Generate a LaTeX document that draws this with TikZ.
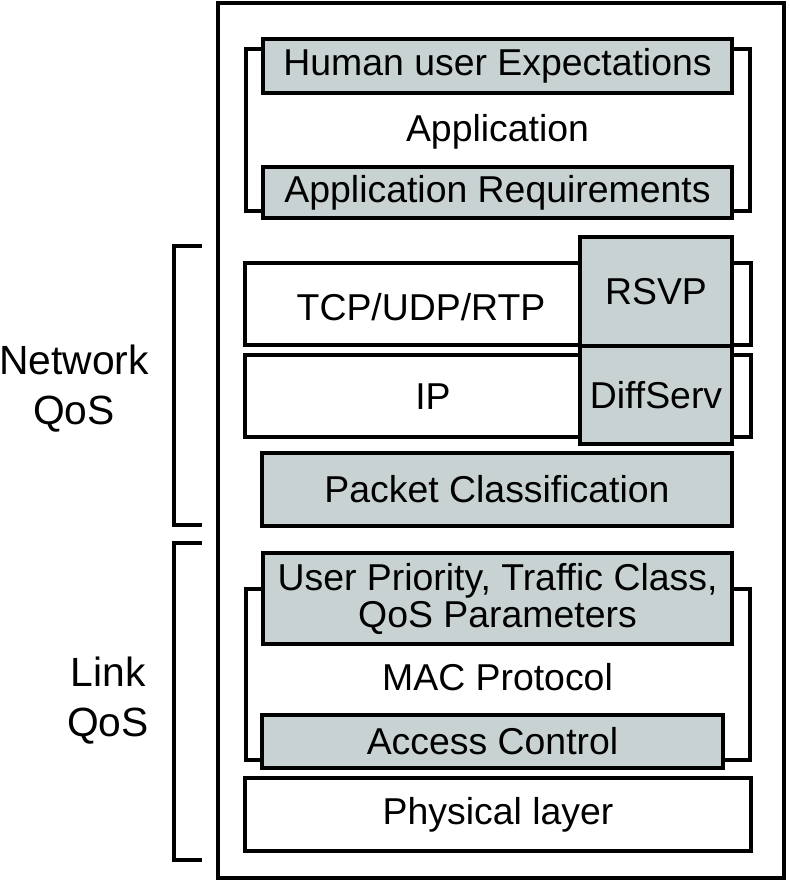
\documentclass[tikz,border=0pt]{standalone}
\usepackage{fontspec}
\setmainfont{Liberation Sans}
\definecolor{boxgray}{RGB}{200,210,210}

\begin{document}
\begin{tikzpicture}[x=0.5pt,y=-0.5pt,line width=1.7pt,
  font=\fontsize{18.7}{18.5}\selectfont,
  layer/.style={draw,fill=white,inner sep=0pt},
  qos/.style={draw,fill=boxgray,inner sep=0pt,align=center},
  side/.style={align=center,font=\fontsize{20.4}{25}\selectfont}]
  \useasboundingbox (0,0) rectangle (789,881);
  % outer frame
  \draw (218,3) rectangle (784,878);
  % brackets
  \draw (202,246) -- (174,246) -- (174,525) -- (202,525);
  \draw (202,543) -- (174,543) -- (174,860) -- (202,860);
  \draw (263,49) -- (246,49) -- (246,211) -- (263,211);
  \draw (732,49) -- (750,49) -- (750,211) -- (732,211);
  \draw (263,589) -- (246,589) -- (246,760) -- (263,760);
  \draw (732,589) -- (750,589) -- (750,760) -- (723,760);
  % left labels
  \node[side] (netqos) at (74,389) {Network\\QoS};
  \node[side] (linkqos) at (108,701) {Link\\QoS};
  % application
  \node[qos,minimum width=234.5pt,minimum height=27pt] (human) at (497.5,66) {Human user Expectations};
  \node (app) at (497.5,132) {Application};
  \node[qos,minimum width=234.5pt,minimum height=25.5pt] (appreq) at (497.5,192.5) {Application Requirements};
  % network
  \node[layer,minimum width=253pt,minimum height=41pt] (tcp) at (498,304) {};
  \node[layer,minimum width=253pt,minimum height=41pt] (ip) at (498,396) {};
  \node (tcptext) at (421,307) {TCP/UDP/RTP};
  \node (iptext) at (433,397) {IP};
  \node[qos,minimum width=76pt,minimum height=54.5pt] (rsvp) at (656,291.5) {RSVP};
  \node[qos,minimum width=76pt,minimum height=49pt] (diffserv) at (656,395) {DiffServ};
  \node[qos,minimum width=235pt,minimum height=36.5pt] (packet) at (497,489.5) {Packet Classification};
  % link
  \node[qos,minimum width=234.5pt,minimum height=45.5pt] (prio) at (497.5,598.5) {User Priority, Traffic Class,\\QoS Parameters};
  \node (mac) at (497.5,677) {MAC Protocol};
  \node[qos,minimum width=230.5pt,minimum height=26.5pt] (access) at (492.5,741.5) {Access Control};
  \node[layer,minimum width=253pt,minimum height=36.5pt] (phy) at (498,814.5) {Physical layer};
\end{tikzpicture}
\end{document}
